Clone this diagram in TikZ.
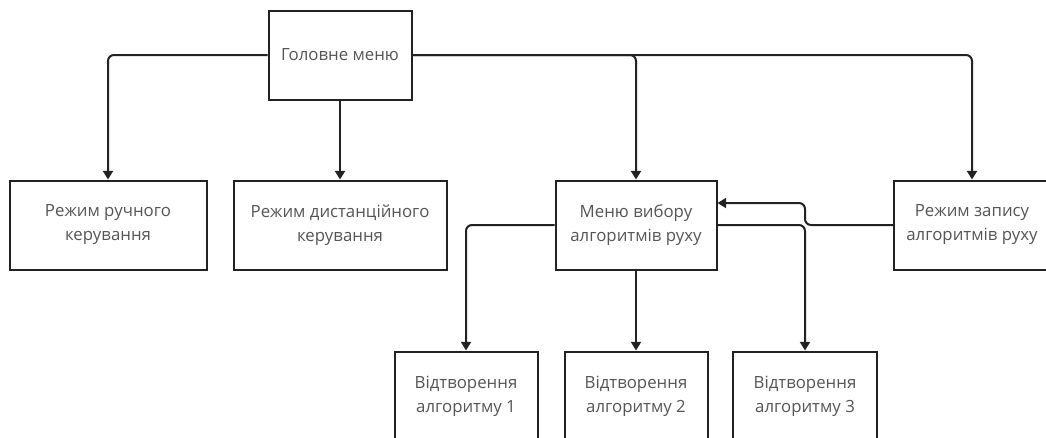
\documentclass[tikz,border=0pt]{standalone}
\usepackage{fontspec}
\setmainfont{Open Sans}
\usetikzlibrary{arrows.meta}
\definecolor{txt}{HTML}{555555}
\definecolor{ln}{HTML}{222222}
\tikzset{
  box/.style={draw=ln, line width=1.5pt, fill=white, inner sep=0pt, align=center,
    text=txt, font=\fontsize{12.6}{18}\selectfont, minimum height=66.75pt},
  arr/.style={draw=ln, line width=1.5pt, rounded corners=4.5pt,
    -{Triangle[width=7.5pt,length=6.5pt]}}
}
\begin{document}
\begin{tikzpicture}[x=0.75pt,y=-0.75pt]
\useasboundingbox (0,0) rectangle (1046,437);
\clip (0,0) rectangle (1046,437);
\fill[white] (0,0) rectangle (1046,437);
% nodes
\node[box, minimum width=107.25pt] (main) at (340,55) {Головне меню};
\node[box, minimum width=147.75pt] (b1) at (108,225) {Режим ручного\\керування};
\node[box, minimum width=159.75pt] (b2) at (340,225) {Режим дистанційного\\керування};
\node[box, minimum width=120.75pt] (menu) at (636,225) {Меню вибору\\алгоритмів руху};
\node[box, minimum width=117pt] (rec) at (972,225) {Режим запису\\алгоритмів руху};
\node[box, minimum width=107.25pt] (a1) at (466,396) {Відтворення\\алгоритму 1};
\node[box, minimum width=107.25pt] (a2) at (636,396) {Відтворення\\алгоритму 2};
\node[box, minimum width=108pt] (a3) at (805,396) {Відтворення\\алгоритму 3};
\coordinate (jog) at (805,203);
% connectors
\draw[arr] (main.west) -| (b1.north);
\draw[arr] (main.south) -- (main.south |- b2.north);
\draw[arr] (main.east) -| (menu.north);
\draw[arr] (main.east) -| (rec.north);
\draw[arr] (menu.west) -| (a1.north);
\draw[arr] (menu.south) -- (a2.north);
\draw[arr] (menu.east) -| (a3.north);
\draw[arr] (rec.west) -| (jog) -- (jog -| menu.east);
\end{tikzpicture}
\end{document}
